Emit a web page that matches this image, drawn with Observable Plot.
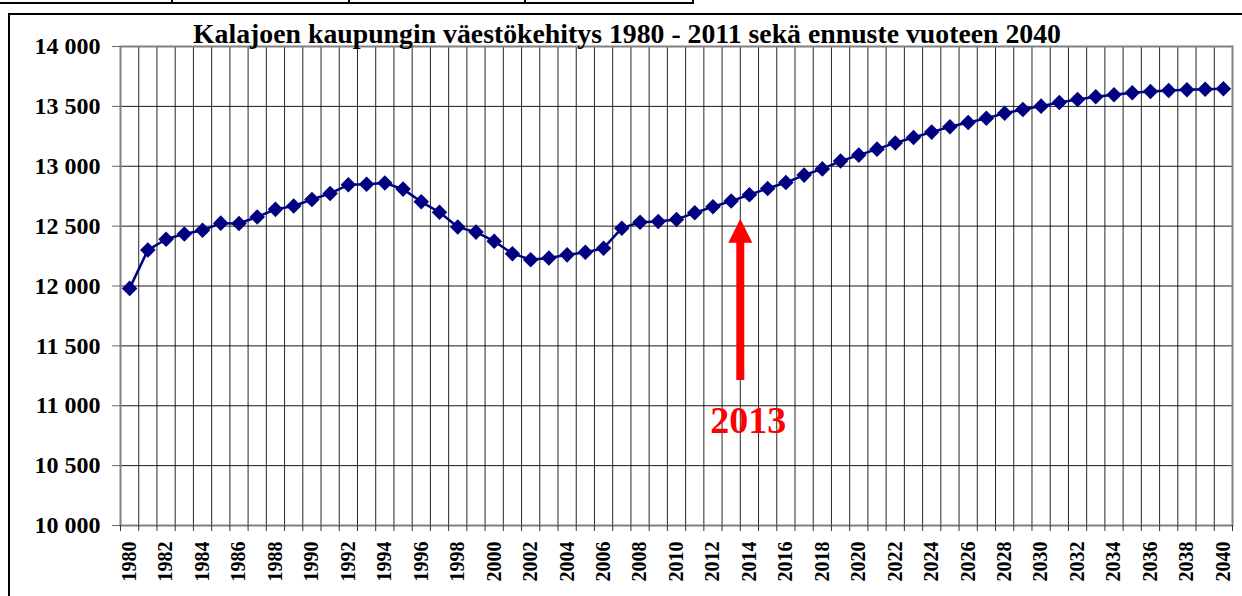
<!DOCTYPE html>
<html><head><meta charset="utf-8">
<script src="https://cdn.jsdelivr.net/npm/d3@7"></script>
<script src="https://cdn.jsdelivr.net/npm/@observablehq/plot@0.6"></script>
<style>
html,body{margin:0;padding:0;background:#fff;width:1242px;height:596px;overflow:hidden;}
body{position:relative;font-family:"Liberation Serif",serif;}
#frame{position:absolute;left:8px;top:13px;width:1300px;height:700px;border:2px solid #000;box-sizing:border-box;}
#tbl{position:absolute;left:-4px;top:-12px;width:698px;height:16px;border:2px solid #000;box-sizing:border-box;}
.vd{position:absolute;top:0;width:2px;height:4px;background:#000;}
#chart{position:absolute;left:0;top:0;}
#chart svg, #chart svg text{font-family:"Liberation Serif",serif !important;}
#title{position:absolute;left:0;top:0;}
</style></head>
<body>
<div id="frame"></div>
<div id="tbl"></div>
<div class="vd" style="left:171px"></div>
<div class="vd" style="left:348px"></div>
<div class="vd" style="left:524px"></div>
<div id="chart"></div>
<svg id="title" width="1242" height="60"><text x="627" y="43" text-anchor="middle" font-family="Liberation Serif" font-weight="bold" font-size="27" textLength="868" lengthAdjust="spacingAndGlyphs">Kalajoen kaupungin väestökehitys 1980 - 2011 sekä ennuste vuoteen 2040</text></svg>
<script>
const years = [1980,1981,1982,1983,1984,1985,1986,1987,1988,1989,1990,1991,1992,1993,1994,1995,1996,1997,1998,1999,2000,2001,2002,2003,2004,2005,2006,2007,2008,2009,2010,2011,2012,2013,2014,2015,2016,2017,2018,2019,2020,2021,2022,2023,2024,2025,2026,2027,2028,2029,2030,2031,2032,2033,2034,2035,2036,2037,2038,2039,2040];
const population = [11980,12300,12390,12435,12465,12525,12522,12577,12640,12668,12722,12773,12845,12850,12860,12809,12703,12616,12492,12450,12374,12270,12220,12233,12260,12281,12316,12483,12533,12538,12556,12611,12662,12709,12762,12814,12864,12926,12978,13043,13093,13143,13195,13240,13285,13330,13366,13400,13443,13474,13502,13532,13557,13580,13597,13613,13624,13633,13638,13643,13647];
const yTicks = [10000,10500,11000,11500,12000,12500,13000,13500,14000];
const xLabelYears = [1980,1982,1984,1986,1988,1990,1992,1994,1996,1998,2000,2002,2004,2006,2008,2010,2012,2014,2016,2018,2020,2022,2024,2026,2028,2030,2032,2034,2036,2038,2040];
const arrowLabel = ["2013"];
const arrowX = [2013.5];
const arrowFrom = [11211];
const arrowTip = [12561];
const arrowLabelY = [10877];

const data = years.map((y, i) => ({year: y, value: population[i]}));
const boundaries = years.map(y => y - 0.5).concat([years[years.length - 1] + 0.5]);
const arrowData = arrowX.map((x, i) => ({x, from: arrowFrom[i], tip: arrowTip[i], label: arrowLabel[i], ly: arrowLabelY[i]}));
const fmt = d => d3.format(",")(d).replace(/,/g, " ");
const headSymbol = {draw(ctx) { ctx.moveTo(0, 0); ctx.lineTo(12, 24); ctx.lineTo(-12, 24); ctx.closePath(); }};
const serif = "Liberation Serif";

const chart = Plot.plot({
  width: 1242, height: 596,
  marginLeft: 120, marginRight: 10, marginTop: 46, marginBottom: 71,
  style: {fontFamily: serif, background: "transparent"},
  x: {domain: [1979.5, 2040.5]},
  y: {domain: [10000, 14000]},
  marks: [
    Plot.gridX(boundaries, {stroke: "#000", strokeOpacity: 0.85, strokeWidth: 1}),
    Plot.gridY(yTicks, {stroke: "#000", strokeOpacity: 0.9, strokeWidth: 1}),
    Plot.frame({stroke: "#808080", strokeWidth: 2}),
    Plot.axisY({ticks: yTicks, tickSize: 8, tickPadding: 12, tickFormat: fmt, fontSize: 24, fontWeight: "bold", fontFamily: serif, stroke: "#666", fill: "#000", label: null}),
    Plot.axisX({ticks: boundaries, tickSize: 6, fill: "none", stroke: "#333", label: null}),
    Plot.axisX({ticks: xLabelYears, tickSize: 0, tickPadding: 16, tickRotate: -90, tickFormat: d => String(d), fontSize: 20, fontWeight: "bold", fontFamily: serif, fill: "#000", label: null}),
    Plot.line(data, {x: "year", y: "value", stroke: "#000080", strokeWidth: 2.5}),
    Plot.dot(data, {x: "year", y: "value", symbol: "diamond2", r: 7, fill: "#000080", stroke: "none"}),
    Plot.ruleX(arrowData, {x: "x", y1: "from", y2: d => d.tip - 100, stroke: "#ff0000", strokeWidth: 8}),
    Plot.dot(arrowData, {x: "x", y: "tip", symbol: headSymbol, r: 5, fill: "#ff0000", stroke: "none"}),
    Plot.text(arrowData, {x: "x", y: "ly", text: "label", dx: 8, fill: "#ff0000", fontSize: 38, fontWeight: "bold", fontFamily: serif})
  ]
});
document.getElementById("chart").appendChild(chart);
</script>
</body></html>
